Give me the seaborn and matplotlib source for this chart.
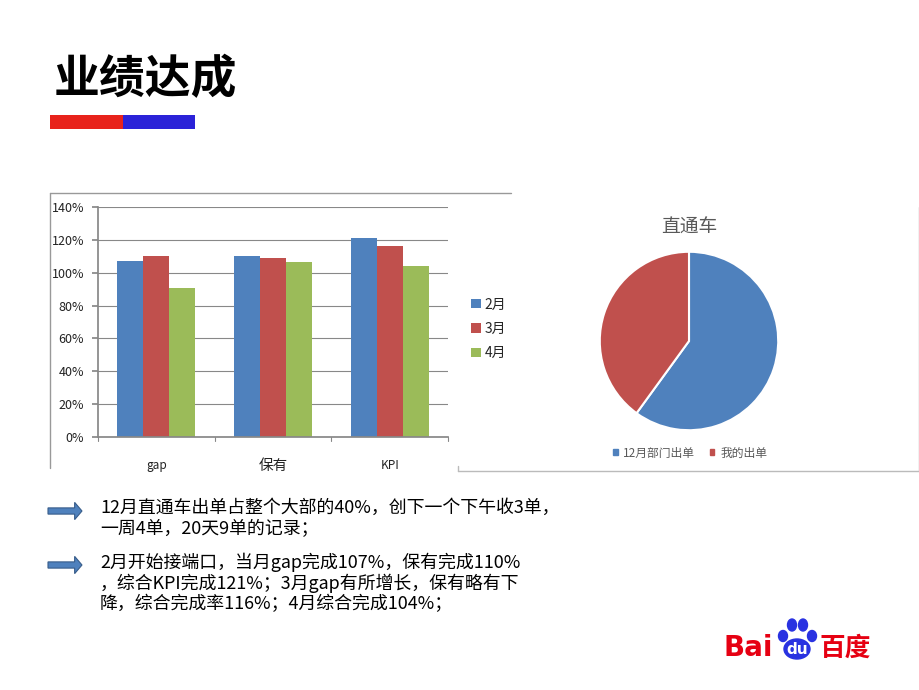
import matplotlib
matplotlib.use("Agg")
import matplotlib.pyplot as plt
from matplotlib.patches import Rectangle, Ellipse, FancyArrow
from matplotlib.lines import Line2D
import seaborn as sns
import pandas as pd

# ---- data ----
categories = ["gap", "保有", "KPI"]
months = ["2月", "3月", "4月"]
feb = [1.07, 1.10, 1.21]
mar = [1.10, 1.09, 1.16]
apr = [0.91, 1.065, 1.04]
bar_colors = ["#4F81BD", "#C0504D", "#9BBB59"]

pie_labels = ["12月部门出单", "我的出单"]
pie_values = [60, 40]
pie_colors = ["#4F81BD", "#C0504D"]

title = "业绩达成"
pie_title = "直通车"
notes = [
    ["12月直通车出单占整个大部的40%，创下一个下午收3单，", "一周4单，20天9单的记录；"],
    ["2月开始接端口，当月gap完成107%，保有完成110%", "，综合KPI完成121%；3月gap有所增长，保有略有下", "降，综合完成率116%；4月综合完成104%；"],
]

sns.set_theme(style="white")
plt.rcParams["font.family"] = ["Noto Sans CJK SC", "DejaVu Sans"]

W, H = 920, 690
fig = plt.figure(figsize=(W / 100, H / 100), dpi=100)
fig.patch.set_facecolor("white")


def fx(x):
    return x / W


def fy(y):
    return 1 - y / H


# title and color bar
fig.text(fx(54), fy(80), title, fontsize=33, fontweight="bold", color="black",
         va="center", ha="left")
fig.patches.append(Rectangle((fx(50), fy(129)), fx(123) - fx(50), fy(115) - fy(129),
                             transform=fig.transFigure, color="#E8221B", lw=0))
fig.patches.append(Rectangle((fx(123), fy(129)), fx(195) - fx(123), fy(115) - fy(129),
                             transform=fig.transFigure, color="#2B22D8", lw=0))

# chart frame lines
fig.lines.append(Line2D([fx(50), fx(511)], [fy(193), fy(193)], transform=fig.transFigure,
                        color="#999999", lw=1))
fig.lines.append(Line2D([fx(50), fx(50)], [fy(193), fy(468)], transform=fig.transFigure,
                        color="#999999", lw=1))
fig.lines.append(Line2D([fx(458), fx(919)], [fy(471), fy(471)], transform=fig.transFigure,
                        color="#BBBBBB", lw=1))
fig.lines.append(Line2D([fx(919), fx(919)], [fy(207), fy(471)], transform=fig.transFigure,
                        color="#BBBBBB", lw=1))
fig.lines.append(Line2D([fx(458), fx(458)], [fy(466), fy(471)], transform=fig.transFigure,
                        color="#BBBBBB", lw=1))

# ---- bar chart ----
rows = []
for ci, c in enumerate(categories):
    for m, vals in zip(months, [feb, mar, apr]):
        rows.append({"cat": c, "month": m, "val": vals[ci]})
df = pd.DataFrame(rows)

ax = fig.add_axes([fx(98), fy(437), (448 - 98) / W, (437 - 207) / H])
sns.barplot(data=df, x="cat", y="val", hue="month", palette=bar_colors,
            width=0.67, gap=0, saturation=1, ax=ax, legend=True, edgecolor="none")
ax.set_xlim(-0.5, 2.5)
ax.set_ylim(0, 1.4)
ax.set_yticks([0, 0.2, 0.4, 0.6, 0.8, 1.0, 1.2, 1.4])
ax.set_yticklabels(["0%", "20%", "40%", "60%", "80%", "100%", "120%", "140%"],
                   fontsize=9, color="#222222")
ax.set_xticks([0, 1, 2])
ax.set_xticklabels(categories, fontsize=8.5, color="#222222")
for lbl in ax.get_xticklabels():
    if lbl.get_text() == "保有":
        lbl.set_fontsize(10.5)
ax.set_xlabel("")
ax.set_ylabel("")
ax.grid(axis="y", color="#888888", lw=0.8)
ax.set_axisbelow(True)
for s in ["top", "right"]:
    ax.spines[s].set_visible(False)
ax.spines["left"].set_color("#888888")
ax.spines["bottom"].set_color("#888888")
ax.tick_params(axis="y", which="both", left=True, length=4, color="#888888", pad=6)
ax.tick_params(axis="x", bottom=False, pad=10)
for xb in [-0.5, 0.5, 1.5, 2.5]:
    ax.plot([xb, xb], [0, -0.025], color="#888888", lw=0.8, clip_on=False)
leg = ax.legend(loc="center left", bbox_to_anchor=(1.03, 0.47), frameon=False,
                fontsize=10, handlelength=0.7, handleheight=0.7, handletextpad=0.3,
                labelspacing=0.75)

# ---- pie chart ----
pax = fig.add_axes([fx(598), fy(432), 182 / W, 182 / H])
pax.pie(pie_values, colors=pie_colors, startangle=90, counterclock=False,
        wedgeprops=dict(edgecolor="white", linewidth=1.5))
pax.set_xlim(-1.02, 1.02)
pax.set_ylim(-1.02, 1.02)
pax.set_aspect("equal")
fig.text(fx(689), fy(227), pie_title, fontsize=13.5, color="#595959", ha="center", va="center")
handles = [Rectangle((0, 0), 1, 1, color=c) for c in pie_colors]
fig.legend(handles, pie_labels, loc="center", bbox_to_anchor=(fx(690), fy(453)),
           ncol=2, frameon=False, fontsize=8.5, handlelength=0.4, handleheight=0.4,
           handletextpad=0.5, columnspacing=1.2, labelcolor="#595959")

# ---- notes ----
line_h = 21
starts = [508, 562]
for block, y0 in zip(notes, starts):
    for i, line in enumerate(block):
        fig.text(fx(100), fy(y0 + i * line_h), line, fontsize=12.9, color="black",
                 ha="left", va="center")
    ay = fy(y0 + 3)
    fig.patches.append(FancyArrow(fx(48), ay, fx(82) - fx(48), 0, width=0.009,
                                  head_width=0.025, head_length=0.008,
                                  length_includes_head=True, transform=fig.transFigure,
                                  facecolor="#4F81BD", edgecolor="#385D8A", lw=0.8))

# ---- Baidu logo ----
fig.text(fx(724), fy(648), "Bai", fontsize=20, fontweight="bold", color="#E60012",
         ha="left", va="center", family=["DejaVu Sans"])
lax = fig.add_axes([fx(775), fy(664), 45 / W, 50 / H])
lax.set_xlim(0, 45)
lax.set_ylim(50, 0)
lax.axis("off")
lax.add_patch(Ellipse((22, 35), 26, 20, color="#2932E1"))
for (cx, cy, w, h) in [(8, 22, 9, 11), (17, 11, 9, 12), (28, 11, 9, 12), (37, 22, 9, 11)]:
    lax.add_patch(Ellipse((cx, cy), w, h, color="#2932E1"))
lax.text(22, 36, "du", fontsize=11, fontweight="bold", color="white", ha="center",
         va="center", family=["DejaVu Sans"])
fig.text(fx(820), fy(648), "百度", fontsize=18.5, fontweight="bold", color="#E60012",
         ha="left", va="center")

fig.savefig("out.png", dpi=100, facecolor="white")
